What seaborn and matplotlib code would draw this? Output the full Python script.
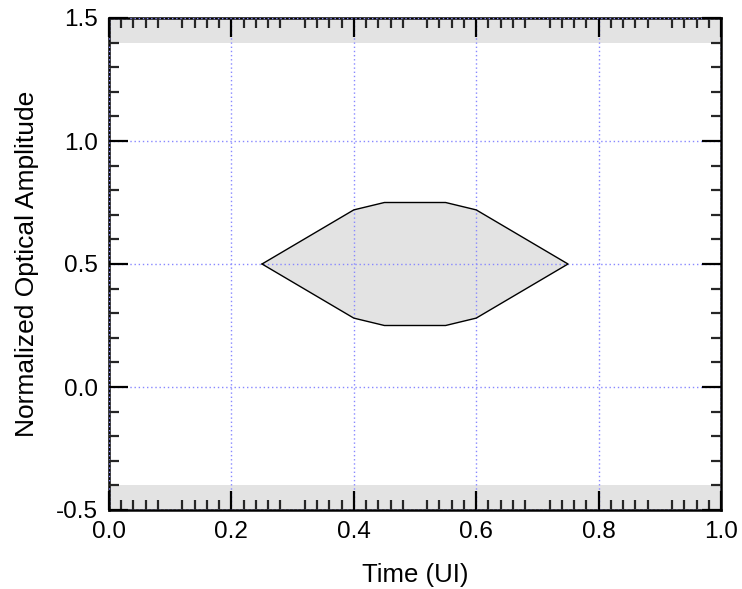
import matplotlib
matplotlib.use("Agg")
import matplotlib.pyplot as plt
import seaborn as sns
import numpy as np
import pandas as pd
from matplotlib.ticker import MultipleLocator, FixedLocator

# Eye-mask polygon (time in UI, normalized amplitude)
mask_time = [0.25, 0.40, 0.45, 0.55, 0.60, 0.75, 0.60, 0.55, 0.45, 0.40, 0.25]
mask_amp = [0.50, 0.72, 0.75, 0.75, 0.72, 0.50, 0.28, 0.25, 0.25, 0.28, 0.50]

# Upper and lower mask bands
upper_band = (1.4, 1.5)
lower_band = (-0.5, -0.4)

x_ticks = [0.0, 0.2, 0.4, 0.6, 0.8, 1.0]
x_ticklabels = ["0.0", "0.2", "0.4", "0.6", "0.8", "1.0"]
y_ticks = [-0.5, 0.0, 0.5, 1.0, 1.5]
y_ticklabels = ["-0.5", "0.0", "0.5", "1.0", "1.5"]

sns.set_theme(style="white")
plt.rcParams["font.family"] = ["Liberation Sans", "DejaVu Sans"]

fig = plt.figure(figsize=(7.42, 5.89), dpi=100)
ax = fig.add_axes([109 / 742, 1 - 510 / 589, 612 / 742, 492 / 589])

fill_color = "#e3e3e3"
df = pd.DataFrame({"time": mask_time, "amp": mask_amp})
ax.fill(df["time"], df["amp"], color=fill_color, zorder=1, lw=0)
sns.lineplot(data=df, x="time", y="amp", sort=False, estimator=None,
             color="black", lw=1.0, ax=ax, zorder=3)

ax.axhspan(*upper_band, color=fill_color, lw=0, zorder=0.5)
ax.axhspan(*lower_band, color=fill_color, lw=0, zorder=0.5)

ax.set_xlim(0, 1)
ax.set_ylim(-0.5, 1.5)

ax.set_xticks(x_ticks)
ax.set_xticklabels(x_ticklabels)
ax.set_yticks(y_ticks)
ax.set_yticklabels(y_ticklabels)

# small ticks every 0.02 (skipping the 0.1 positions), every 0.1 on y
small_x = [round(v, 2) for v in np.arange(0, 1.0001, 0.02)
           if abs(v * 10 - round(v * 10)) > 1e-6]
ax.xaxis.set_minor_locator(FixedLocator(small_x))
ax.yaxis.set_minor_locator(MultipleLocator(0.1))

ax.grid(True, which="major", color="#8888ff", ls=(0, (1, 2)), lw=1.0, zorder=2)
ax.set_axisbelow(False)

tick_w = 1.6
ax.tick_params(which="major", direction="in", length=13.5, width=tick_w,
               bottom=True, left=True, top=True, right=True,
               labelsize=17.5, pad=8, colors="black")
ax.tick_params(which="minor", direction="in", length=7, width=tick_w,
               bottom=True, left=True, top=True, right=True)

# medium ticks at the odd tenths along x
mid_x = [0.1, 0.3, 0.5, 0.7, 0.9]
for loc in ("bottom", "top"):
    sec = ax.secondary_xaxis(loc)
    sec.set_xticks(mid_x)
    sec.tick_params(direction="in", length=10.5, width=tick_w,
                    bottom=(loc == "bottom"), top=(loc == "top"),
                    labelbottom=False, labeltop=False, colors="black")
    for s in sec.spines.values():
        s.set_visible(False)

for s in ax.spines.values():
    s.set_linewidth(1.8)
    s.set_color("black")
    s.set_visible(True)

ax.set_xlabel("Time (UI)", fontsize=18.5, labelpad=14, color="black")
ax.set_ylabel("Normalized Optical Amplitude", fontsize=19, labelpad=12, color="black")

fig.savefig("out.png", dpi=100, facecolor="white")
